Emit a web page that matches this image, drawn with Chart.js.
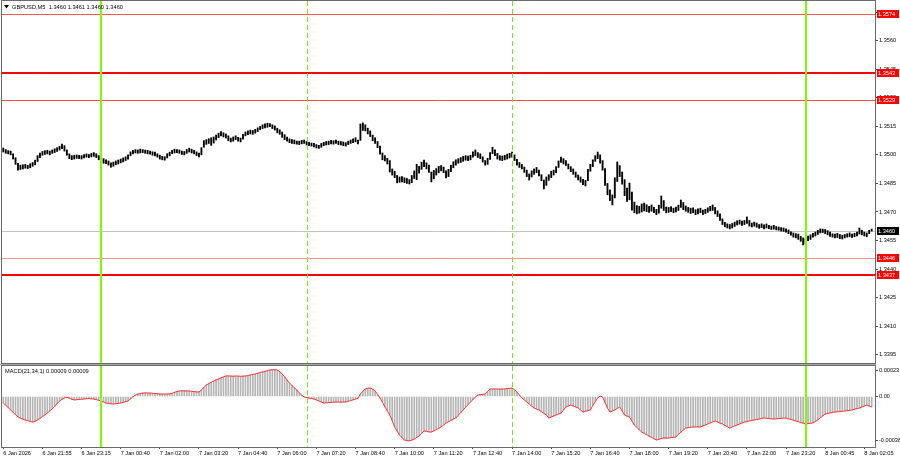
<!DOCTYPE html>
<html>
<head>
<meta charset="utf-8">
<script src="https://cdn.jsdelivr.net/npm/chart.js@4.4.1/dist/chart.umd.min.js"></script>
<style>
  html, body { margin: 0; padding: 0; background: #fff; }
  #wrap { position: relative; width: 900px; height: 460px; }
  #price { position: absolute; left: 0; top: 0; }
  #osc { position: absolute; left: 0; top: 364px; }
</style>
</head>
<body>
<div id="wrap">
  <canvas id="price" width="900" height="364"></canvas>
  <canvas id="osc" width="900" height="96"></canvas>
</div>
<script>
// GBPUSD M5 bars, one value per bar (5 min)
const lows = [
  1.35015,1.35008,1.35005,1.35000,1.34978,1.34950,1.34920,1.34923,1.34926,1.34930,1.34928,1.34932,1.34940,1.34948,1.34965,1.34985,
  1.34998,1.35002,1.35005,1.35000,1.35008,1.35012,1.35018,1.35025,1.35032,1.35020,1.34998,1.34980,1.34975,1.34978,1.34982,1.34980,
  1.34978,1.34984,1.34988,1.34985,1.34989,1.34992,1.34986,1.34974,1.34964,1.34956,1.34954,1.34946,1.34935,1.34940,1.34948,1.34952,
  1.34958,1.34963,1.34970,1.34978,1.34995,1.35005,1.35010,1.35008,1.35010,1.35012,1.35008,1.35005,1.35004,1.34998,1.34995,1.34988,
  1.34978,1.34974,1.34972,1.34984,1.34995,1.35006,1.35010,1.35012,1.35008,1.35002,1.35000,1.35008,1.35015,1.35010,1.35005,1.34996,
  1.34989,1.35000,1.35040,1.35055,1.35060,1.35050,1.35062,1.35078,1.35090,1.35100,1.35094,1.35088,1.35074,1.35068,1.35072,1.35080,
  1.35072,1.35068,1.35082,1.35100,1.35106,1.35110,1.35108,1.35114,1.35122,1.35132,1.35138,1.35142,1.35145,1.35148,1.35138,1.35130,
  1.35116,1.35108,1.35092,1.35080,1.35072,1.35064,1.35060,1.35058,1.35056,1.35054,1.35058,1.35060,1.35052,1.35048,1.35046,1.35042,
  1.35036,1.35034,1.35040,1.35048,1.35052,1.35054,1.35058,1.35056,1.35060,1.35054,1.35052,1.35048,1.35046,1.35054,1.35060,1.35064,
  1.35068,1.35058,1.35076,1.35128,1.35126,1.35110,1.35096,1.35074,1.35060,1.35038,1.35004,1.34974,1.34968,1.34952,1.34910,1.34894,
  1.34880,1.34853,1.34856,1.34858,1.34854,1.34850,1.34847,1.34854,1.34876,1.34870,1.34904,1.34924,1.34938,1.34926,1.34908,1.34858,
  1.34874,1.34894,1.34906,1.34916,1.34906,1.34879,1.34886,1.34912,1.34932,1.34946,1.34956,1.34960,1.34966,1.34972,1.34970,1.34974,
  1.34988,1.34996,1.34986,1.34980,1.34962,1.34946,1.34950,1.34976,1.35006,1.34996,1.34978,1.34972,1.34970,1.34974,1.34978,1.34984,
  1.34988,1.34970,1.34946,1.34934,1.34926,1.34908,1.34886,1.34868,1.34884,1.34898,1.34906,1.34890,1.34864,1.34821,1.34840,1.34866,
  1.34880,1.34894,1.34906,1.34934,1.34960,1.34952,1.34944,1.34926,1.34912,1.34898,1.34882,1.34868,1.34856,1.34844,1.34837,1.34864,
  1.34914,1.34938,1.34966,1.34980,1.34956,1.34920,1.34840,1.34790,1.34760,1.34737,1.34774,1.34860,1.34886,1.34846,1.34786,1.34756,
  1.34764,1.34710,1.34696,1.34690,1.34694,1.34700,1.34706,1.34702,1.34698,1.34704,1.34696,1.34686,1.34694,1.34720,1.34708,1.34696,
  1.34698,1.34702,1.34696,1.34700,1.34708,1.34724,1.34712,1.34704,1.34698,1.34692,1.34696,1.34686,1.34690,1.34696,1.34686,1.34692,
  1.34698,1.34706,1.34708,1.34690,1.34676,1.34656,1.34634,1.34622,1.34616,1.34611,1.34616,1.34624,1.34632,1.34636,1.34630,1.34634,
  1.34640,1.34626,1.34621,1.34626,1.34620,1.34614,1.34618,1.34611,1.34616,1.34612,1.34608,1.34610,1.34606,1.34604,1.34600,1.34598,
  1.34594,1.34586,1.34578,1.34568,1.34564,1.34556,1.34546,1.34527,1.34534,1.34550,1.34556,1.34568,1.34574,1.34582,1.34590,1.34592,
  1.34586,1.34580,1.34572,1.34568,1.34564,1.34566,1.34560,1.34558,1.34564,1.34568,1.34570,1.34566,1.34570,1.34574,1.34584,1.34580,
  1.34574,1.34570,1.34586,1.34600
];
const highs = [
  1.35036,1.35028,1.35022,1.35020,1.35006,1.34985,1.34955,1.34946,1.34948,1.34950,1.34945,1.34954,1.34960,1.34972,1.34996,1.35010,
  1.35018,1.35022,1.35024,1.35020,1.35026,1.35032,1.35038,1.35045,1.35057,1.35048,1.35026,1.35005,1.34996,1.34998,1.35000,1.34998,
  1.34996,1.35002,1.35005,1.35002,1.35008,1.35012,1.35006,1.34996,1.34988,1.34980,1.34974,1.34968,1.34958,1.34962,1.34968,1.34973,
  1.34978,1.34984,1.34990,1.35000,1.35016,1.35024,1.35028,1.35026,1.35030,1.35028,1.35025,1.35024,1.35020,1.35016,1.35014,1.35006,
  1.34998,1.34992,1.34990,1.35006,1.35014,1.35024,1.35030,1.35028,1.35026,1.35020,1.35018,1.35028,1.35035,1.35030,1.35024,1.35016,
  1.35010,1.35038,1.35075,1.35080,1.35085,1.35090,1.35094,1.35104,1.35114,1.35122,1.35116,1.35110,1.35100,1.35088,1.35094,1.35100,
  1.35092,1.35088,1.35108,1.35120,1.35126,1.35130,1.35128,1.35134,1.35142,1.35150,1.35158,1.35163,1.35166,1.35164,1.35158,1.35152,
  1.35140,1.35132,1.35120,1.35106,1.35094,1.35084,1.35080,1.35078,1.35072,1.35072,1.35076,1.35078,1.35070,1.35066,1.35062,1.35060,
  1.35054,1.35050,1.35060,1.35066,1.35070,1.35072,1.35076,1.35074,1.35078,1.35072,1.35070,1.35068,1.35064,1.35072,1.35078,1.35084,
  1.35090,1.35078,1.35162,1.35168,1.35158,1.35140,1.35126,1.35104,1.35090,1.35070,1.35046,1.35010,1.34996,1.34982,1.34970,1.34926,
  1.34914,1.34892,1.34884,1.34886,1.34880,1.34876,1.34870,1.34892,1.34916,1.34950,1.34940,1.34962,1.34973,1.34958,1.34946,1.34910,
  1.34918,1.34928,1.34940,1.34944,1.34936,1.34916,1.34924,1.34946,1.34964,1.34974,1.34980,1.34986,1.34992,1.34996,1.34994,1.34998,
  1.35016,1.35026,1.35012,1.35006,1.34990,1.34970,1.34982,1.35012,1.35040,1.35026,1.35008,1.34996,1.34994,1.34998,1.35004,1.35008,
  1.35015,1.35000,1.34976,1.34960,1.34950,1.34936,1.34920,1.34900,1.34916,1.34926,1.34934,1.34920,1.34896,1.34868,1.34884,1.34896,
  1.34914,1.34920,1.34938,1.34968,1.34989,1.34980,1.34970,1.34952,1.34938,1.34926,1.34910,1.34894,1.34884,1.34872,1.34866,1.34924,
  1.34950,1.34974,1.34996,1.35015,1.35000,1.34970,1.34928,1.34850,1.34816,1.34790,1.34880,1.34963,1.34944,1.34910,1.34870,1.34826,
  1.34852,1.34804,1.34752,1.34734,1.34730,1.34742,1.34747,1.34738,1.34730,1.34737,1.34724,1.34714,1.34736,1.34784,1.34760,1.34726,
  1.34724,1.34728,1.34720,1.34726,1.34736,1.34763,1.34750,1.34732,1.34724,1.34720,1.34722,1.34712,1.34716,1.34720,1.34710,1.34714,
  1.34722,1.34730,1.34737,1.34724,1.34706,1.34690,1.34664,1.34646,1.34638,1.34634,1.34640,1.34647,1.34654,1.34658,1.34652,1.34656,
  1.34674,1.34656,1.34642,1.34647,1.34642,1.34634,1.34638,1.34632,1.34637,1.34630,1.34626,1.34630,1.34624,1.34621,1.34618,1.34616,
  1.34612,1.34606,1.34596,1.34590,1.34586,1.34584,1.34572,1.34564,1.34560,1.34574,1.34580,1.34588,1.34595,1.34604,1.34611,1.34610,
  1.34608,1.34602,1.34594,1.34586,1.34584,1.34588,1.34582,1.34578,1.34582,1.34586,1.34590,1.34584,1.34588,1.34594,1.34616,1.34604,
  1.34594,1.34590,1.34604,1.34610
];
// MACD(21,34,1) main line, one value per bar
const macd = [
  -5.7e-5,-7.6e-5,-9.6e-5,-11.7e-5,-13.8e-5,-15.8e-5,-17.8e-5,-18.8e-5,-19.7e-5,-20.4e-5,-21.0e-5,-21.6e-5,-22.2e-5,-21.6e-5,-20.4e-5,-19.0e-5,
  -17.5e-5,-16.1e-5,-14.4e-5,-12.6e-5,-10.9e-5,-8.6e-5,-6.2e-5,-3.9e-5,-2.4e-5,-1.2e-5,-0.7e-5,-1.5e-5,-2.4e-5,-3.0e-5,-2.8e-5,-2.5e-5,
  -2.3e-5,-2.2e-5,-2.0e-5,-1.8e-5,-2.0e-5,-2.2e-5,-2.7e-5,-3.3e-5,-3.9e-5,-4.8e-5,-5.7e-5,-6.0e-5,-6.3e-5,-6.5e-5,-6.3e-5,-6.0e-5,
  -5.7e-5,-5.1e-5,-4.5e-5,-3.9e-5,-2.1e-5,-0.3e-5,1.3e-5,2.0e-5,2.6e-5,3.0e-5,3.1e-5,3.0e-5,3.0e-5,2.8e-5,2.6e-5,2.4e-5,
  2.2e-5,2.1e-5,2.1e-5,2.2e-5,2.2e-5,2.8e-5,3.6e-5,4.3e-5,4.8e-5,4.9e-5,4.9e-5,4.8e-5,4.8e-5,4.5e-5,4.2e-5,4.0e-5,
  3.9e-5,5.8e-5,7.9e-5,10.0e-5,11.2e-5,12.3e-5,13.4e-5,14.4e-5,15.3e-5,16.2e-5,17.0e-5,17.8e-5,17.9e-5,17.8e-5,17.6e-5,17.8e-5,
  17.7e-5,17.6e-5,17.7e-5,17.8e-5,18.2e-5,18.7e-5,19.2e-5,19.6e-5,20.2e-5,20.8e-5,21.3e-5,21.9e-5,22.5e-5,23.0e-5,23.3e-5,23.2e-5,
  23.0e-5,21.6e-5,19.6e-5,17.0e-5,14.4e-5,11.7e-5,9.6e-5,7.6e-5,5.7e-5,3.0e-5,1.2e-5,-0.4e-5,-0.9e-5,-1.4e-5,-1.8e-5,-2.2e-5,
  -3.0e-5,-3.9e-5,-4.8e-5,-5.7e-5,-5.5e-5,-5.3e-5,-5.1e-5,-4.9e-5,-4.8e-5,-4.8e-5,-4.9e-5,-4.8e-5,-4.8e-5,-4.2e-5,-3.6e-5,-2.9e-5,
  -2.2e-5,-1.6e-5,2.2e-5,4.6e-5,6.5e-5,7.2e-5,7.4e-5,6.4e-5,4.8e-5,1.8e-5,-1.3e-5,-5.0e-5,-9.1e-5,-12.5e-5,-16.1e-5,-21.0e-5,
  -26.5e-5,-30.0e-5,-33.5e-5,-35.8e-5,-37.8e-5,-38.4e-5,-38.5e-5,-37.9e-5,-37.0e-5,-35.6e-5,-34.4e-5,-32.2e-5,-30.0e-5,-30.2e-5,-30.8e-5,-30.9e-5,
  -29.9e-5,-28.8e-5,-27.6e-5,-26.5e-5,-24.8e-5,-23.0e-5,-21.9e-5,-20.8e-5,-19.7e-5,-18.7e-5,-16.4e-5,-14.0e-5,-11.7e-5,-9.4e-5,-7.1e-5,-4.8e-5,
  -2.7e-5,-0.6e-5,1.3e-5,1.6e-5,1.9e-5,2.2e-5,4.4e-5,6.5e-5,6.6e-5,6.5e-5,6.5e-5,6.4e-5,6.5e-5,6.5e-5,6.8e-5,7.1e-5,
  7.4e-5,5.8e-5,3.9e-5,1.3e-5,-1.3e-5,-3.0e-5,-4.8e-5,-6.5e-5,-8.3e-5,-10.0e-5,-10.9e-5,-11.7e-5,-13.2e-5,-14.7e-5,-16.1e-5,-18.7e-5,
  -17.8e-5,-17.0e-5,-16.1e-5,-15.2e-5,-14.4e-5,-11.7e-5,-9.1e-5,-8.2e-5,-7.4e-5,-8.3e-5,-9.1e-5,-10.0e-5,-11.8e-5,-13.5e-5,-12.9e-5,-12.3e-5,
  -11.7e-5,-7.8e-5,-4.5e-5,-1.3e-5,0.4e-5,-0.4e-5,-5.2e-5,-10.0e-5,-13.5e-5,-12.6e-5,-11.7e-5,-10.4e-5,-9.1e-5,-12.6e-5,-16.1e-5,-17.0e-5,
  -17.8e-5,-21.3e-5,-24.8e-5,-26.8e-5,-28.9e-5,-30.9e-5,-32.1e-5,-33.2e-5,-34.4e-5,-35.5e-5,-36.7e-5,-37.8e-5,-37.2e-5,-36.6e-5,-36.1e-5,-36.1e-5,
  -36.1e-5,-35.8e-5,-35.5e-5,-35.2e-5,-33.0e-5,-31.0e-5,-29.2e-5,-27.4e-5,-27.1e-5,-26.8e-5,-26.5e-5,-26.5e-5,-26.5e-5,-26.5e-5,-25.6e-5,-24.8e-5,
  -23.9e-5,-23.0e-5,-22.1e-5,-21.3e-5,-22.2e-5,-23.1e-5,-23.9e-5,-25.1e-5,-26.3e-5,-27.4e-5,-26.5e-5,-25.6e-5,-24.8e-5,-23.9e-5,-23.0e-5,-22.2e-5,
  -21.8e-5,-21.3e-5,-20.9e-5,-20.4e-5,-20.0e-5,-19.6e-5,-19.1e-5,-18.7e-5,-18.9e-5,-19.2e-5,-19.4e-5,-19.6e-5,-19.4e-5,-19.2e-5,-19.0e-5,-18.8e-5,
  -18.7e-5,-19.3e-5,-19.9e-5,-20.6e-5,-21.3e-5,-21.9e-5,-22.6e-5,-23.2e-5,-23.9e-5,-23.6e-5,-23.3e-5,-23.0e-5,-21.7e-5,-20.4e-5,-18.6e-5,-16.9e-5,
  -15.2e-5,-14.8e-5,-14.3e-5,-13.9e-5,-13.5e-5,-13.3e-5,-13.0e-5,-12.8e-5,-12.6e-5,-12.3e-5,-12.0e-5,-11.7e-5,-11.1e-5,-10.6e-5,-10.0e-5,-9.1e-5,
  -8.3e-5,-7.4e-5,-8.3e-5,-9.1e-5
];

// axis ticks and labels
const priceTicks = [1.3575, 1.3560, 1.3545, 1.3530, 1.3515, 1.3500, 1.3485, 1.3470, 1.3455, 1.3440, 1.3425, 1.3410, 1.3395];
const macdTicks = [0.00023, 0, -0.00038];
const timeLabels = ['6 Jan 2026', '6 Jan 21:55', '6 Jan 23:15', '7 Jan 00:40', '7 Jan 02:00', '7 Jan 03:20', '7 Jan 04:40',
  '7 Jan 06:00', '7 Jan 07:20', '7 Jan 08:40', '7 Jan 10:00', '7 Jan 11:20', '7 Jan 12:40', '7 Jan 14:00', '7 Jan 15:20',
  '7 Jan 16:40', '7 Jan 18:00', '7 Jan 19:20', '7 Jan 20:40', '7 Jan 22:00', '7 Jan 23:20', '8 Jan 00:45', '8 Jan 02:05'];
const timeBars = [0, 16, 32, 48, 64, 80, 96, 112, 128, 144, 160, 176, 192, 208, 224, 240, 256, 272, 288, 304, 320, 336, 352];

// horizontal levels, current price, vertical markers (bar index)
const levels = [1.3574, 1.3543, 1.3529, 1.3446, 1.3437];
const lastPrice = 1.3460;
const dayBars = [40, 328];
const sessionBars = [124, 208];
const symbol = 'GBPUSD,M5';
const lastBar = [1.3460, 1.3461, 1.3460, 1.3460];
const macdTitle = 'MACD(21,34,1)';
const macdLast = [0.00009, 0.00009];

// styles
const levelColors = ['#ff5454', '#ff0000', '#ff4a4a', '#ff9090', '#ff0000'];
const levelWidths = [1, 2, 1, 1, 2];
const FONT = 'Liberation Sans';
const xMin = -0.53, xMax = 356.37;

function vline(ctx, x, top, bottom) {
  ctx.beginPath();
  ctx.moveTo(x, top);
  ctx.lineTo(x, bottom);
  ctx.stroke();
}

function drawMarkers(chart) {
  const {ctx, chartArea: a, scales: {x}} = chart;
  ctx.save();
  ctx.strokeStyle = '#7cfc00';
  ctx.lineWidth = 2;
  dayBars.forEach(i => vline(ctx, Math.round(x.getPixelForValue(i)), a.top, a.bottom));
  ctx.strokeStyle = '#74ee10';
  ctx.lineWidth = 1;
  ctx.setLineDash([5, 3]);
  sessionBars.forEach(i => vline(ctx, Math.round(x.getPixelForValue(i)) + 0.5, a.top, a.bottom));
  ctx.restore();
}

function drawFrame(chart) {
  const {ctx, chartArea: a} = chart;
  ctx.save();
  ctx.strokeStyle = '#6a6a6a';
  ctx.lineWidth = 1;
  ctx.strokeRect(a.left - 0.5, a.top - 0.5, a.right - a.left + 1, a.bottom - a.top + 1);
  ctx.restore();
}

function axisBox(ctx, a, y, text, color) {
  const yy = Math.round(y);
  ctx.fillStyle = color;
  ctx.fillRect(a.right + 2, yy - 4, 22, 8);
  ctx.fillStyle = '#fff';
  ctx.fillText(text, a.right + 3, yy + 0.5);
}

function noEdgePadding(s) {
  s.paddingTop = 0;
  s.paddingBottom = 0;
}

const pricePlugin = {
  id: 'pricePanel',
  beforeDatasetsDraw(chart) {
    const {ctx, chartArea: a, scales: {y}} = chart;
    ctx.save();
    ctx.strokeStyle = '#c4c4c4';
    ctx.lineWidth = 1;
    const py = Math.round(y.getPixelForValue(lastPrice)) + 0.5;
    ctx.beginPath(); ctx.moveTo(a.left, py); ctx.lineTo(a.right, py); ctx.stroke();
    levels.forEach((v, k) => {
      const w = levelWidths[k];
      const ly = Math.round(y.getPixelForValue(v)) + (w % 2 ? 0.5 : 0);
      ctx.strokeStyle = levelColors[k];
      ctx.lineWidth = w;
      ctx.beginPath(); ctx.moveTo(a.left, ly); ctx.lineTo(a.right, ly); ctx.stroke();
    });
    ctx.restore();
  },
  afterDatasetsDraw(chart) {
    drawMarkers(chart);
  },
  afterDraw(chart) {
    const {ctx, chartArea: a, scales: {y}} = chart;
    drawFrame(chart);
    ctx.save();
    ctx.font = '5.6px "' + FONT + '"';
    ctx.textBaseline = 'middle';
    ctx.textAlign = 'left';
    levels.forEach(v => axisBox(ctx, a, y.getPixelForValue(v), v.toFixed(4), '#ff0000'));
    axisBox(ctx, a, y.getPixelForValue(lastPrice), lastPrice.toFixed(4), '#000');
    // header
    ctx.fillStyle = '#000';
    ctx.beginPath(); ctx.moveTo(4, 5); ctx.lineTo(9, 5); ctx.lineTo(6.5, 8.5); ctx.closePath(); ctx.fill();
    ctx.font = '5.7px "' + FONT + '"';
    ctx.fillText(symbol + '  ' + lastBar.map(v => v.toFixed(4)).join(' '), 12, 7);
    ctx.restore();
  }
};

new Chart(document.getElementById('price'), {
  type: 'bar',
  data: {
    datasets: [{
      data: lows.map((lo, i) => ({x: i, y: [lo, highs[i]]})),
      backgroundColor: '#000',
      barThickness: 1.2
    }]
  },
  options: {
    responsive: false,
    animation: false,
    layout: {padding: {left: 2, top: 1, right: 0, bottom: 1}},
    plugins: {legend: {display: false}, tooltip: {enabled: false}},
    scales: {
      x: {type: 'linear', min: xMin, max: xMax, offset: false, display: false},
      y: {
        position: 'right',
        min: 1.33907, max: 1.35808,
        afterFit: s => { s.width = 25; noEdgePadding(s); },
        afterBuildTicks: s => { s.ticks = priceTicks.map(v => ({value: v})); },
        grid: {drawOnChartArea: false, tickLength: 3, color: '#444'},
        border: {color: '#6a6a6a'},
        ticks: {font: {family: FONT, size: 5.6}, color: '#000', padding: 1, autoSkip: false,
                callback: v => v.toFixed(4)}
      }
    }
  },
  plugins: [pricePlugin]
});

const macdPlugin = {
  id: 'macdPanel',
  afterDatasetsDraw(chart) {
    drawMarkers(chart);
  },
  afterDraw(chart) {
    const {ctx, chartArea: a} = chart;
    ctx.save();
    ctx.fillStyle = '#a8a8a8';
    ctx.fillRect(0, 0, a.right + 1, 1);
    ctx.restore();
    drawFrame(chart);
    ctx.save();
    ctx.fillStyle = '#000';
    ctx.font = '5.7px "' + FONT + '"';
    ctx.textBaseline = 'middle';
    ctx.fillText(macdTitle + ' ' + macdLast.map(v => v.toFixed(5)).join(' '), a.left + 3, a.top + 5);
    ctx.restore();
  }
};

const macdPoints = macd.map((v, i) => ({x: i, y: v}));

new Chart(document.getElementById('osc'), {
  type: 'bar',
  data: {
    datasets: [
      {type: 'line', data: macdPoints, borderColor: '#ff3030', borderWidth: 1, pointRadius: 0, tension: 0, order: 0},
      {type: 'bar', data: macdPoints, backgroundColor: '#b4b4b4', barThickness: 1, order: 1}
    ]
  },
  options: {
    responsive: false,
    animation: false,
    layout: {padding: {left: 2, top: 2, right: 0, bottom: 0}},
    plugins: {legend: {display: false}, tooltip: {enabled: false}},
    scales: {
      x: {
        type: 'linear', min: xMin, max: xMax, offset: false,
        afterFit: s => { s.height = 13; },
        afterBuildTicks: s => { s.ticks = timeBars.map(v => ({value: v})); },
        grid: {drawOnChartArea: false, tickLength: 2, color: '#444', offset: false},
        border: {color: '#6a6a6a'},
        ticks: {font: {family: FONT, size: 5.6}, color: '#000', padding: 1, align: 'start',
                maxRotation: 0, minRotation: 0, autoSkip: false,
                callback: (v, k) => timeLabels[k]}
      },
      y: {
        position: 'right',
        min: -0.000439, max: 0.000265,
        afterFit: s => { s.width = 25; noEdgePadding(s); },
        afterBuildTicks: s => { s.ticks = macdTicks.map(v => ({value: v})); },
        grid: {drawOnChartArea: false, tickLength: 3, color: '#444'},
        border: {color: '#6a6a6a'},
        ticks: {font: {family: FONT, size: 5.6}, color: '#000', padding: 1, autoSkip: false,
                callback: v => (v === 0 ? '0.00' : v.toFixed(5))}
      }
    }
  },
  plugins: [macdPlugin]
});
</script>
</body>
</html>
